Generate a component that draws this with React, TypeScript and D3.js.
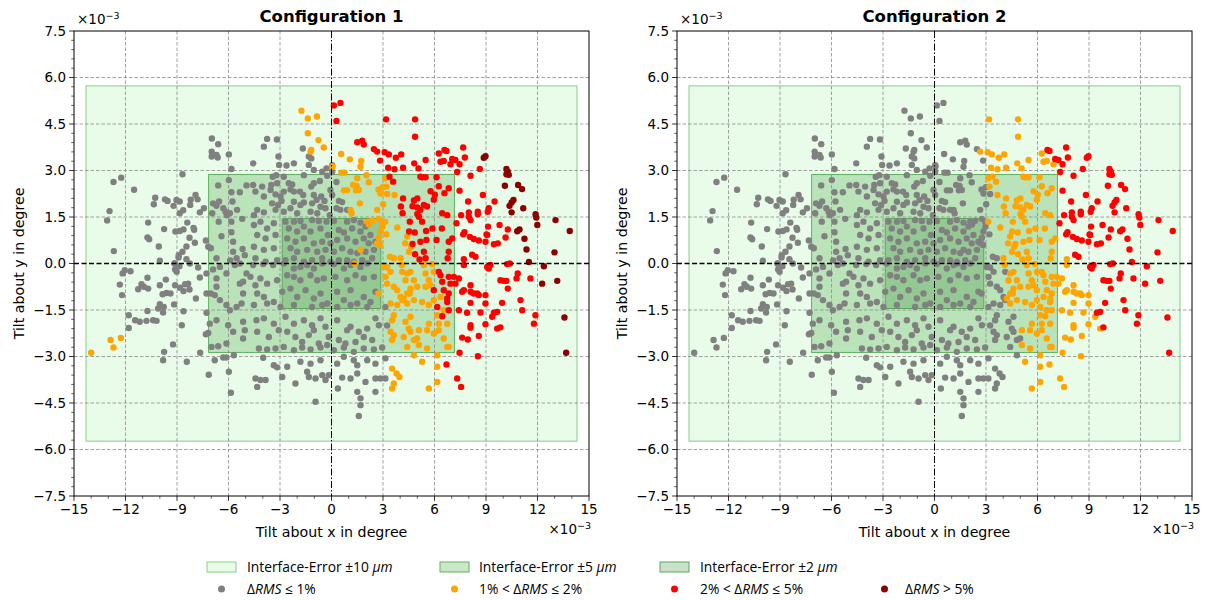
import React from 'react';
import * as d3 from 'd3';

// Axis ticks (values in units of 1e-3 degree)
const X_TICKS = [-15, -12, -9, -6, -3, 0, 3, 6, 9, 12, 15];
const Y_TICKS = [-7.5, -6, -4.5, -3, -1.5, 0, 1.5, 3, 4.5, 6, 7.5];
const X_MINOR = d3.range(-15, 15.001, 1);
const Y_MINOR = d3.range(-7.5, 7.501, 0.3);

// Interface-error tolerance zones: half-extent in x and y (1e-3 degree)
const ZONE_LABELS = ['10', '5', '2'];
const ZONE_HALF_X = [14.3, 7.16, 2.87];
const ZONE_HALF_Y = [5.73, 2.87, 1.45];

const PANEL_TITLES = ['Configuration 1', 'Configuration 2'];
const CLASS_LABELS = ['≤ 1%', '1% < ', '2% < ', '> 5%'];

// Tilt samples, grouped by their class in configuration 1.
// Third entry (where present) = class in configuration 2 (0 gray, 1 orange, 2 red).
const GRAY: number[][] = [
  [-6.97,4.03],[-6.6,3.85],[-6.98,3.61],[-6.7,3.5],[-6.98,3.45],[-6.63,3.42],[-5.98,3.52],[-8.68,2.88],[-5.83,3.05],[-12.7,2.63],[-12.25,2.77],[-11.5,2.38],[-6.6,2.52],[-5.98,2.69],[-5.83,2.3],[-5.34,2.3],[-4.95,2.52],[-10.27,2.12],[-10.35,1.91],[-9.7,2.07],[-9.55,2.02],[-9.03,2.05],[-8.84,2.0],[-9.2,1.86],[-8.64,1.72],[-8.84,1.62],[-8.2,2.06],[-7.92,2.21],[-7.8,2.07],[-8.23,1.89],[-7.43,1.78],[-7.67,1.65],[-12.93,1.69],[-13.07,1.39],[-6.9,1.94],[-6.55,2.0],[-6.7,1.86],[-6.95,1.62],[-6.57,1.35],[-6.3,1.78],[-6.1,1.56],[-5.92,1.62],[-6.17,1.67],[-5.83,1.35],[-5.77,2.0],[-5.2,1.44],[-5.5,1.73],[-10.68,1.32],[-9.75,1.11],[-9.09,1.03],[-8.84,1.05],[-8.62,1.1],[-8.4,1.32],[-8.0,1.09],[-8.04,1.15],[-8.27,0.83],[-8.45,0.55],[-7.96,0.67],[-10.72,0.84],[-10.62,0.78],[-10.06,0.55],[-12.68,0.4],[-7.32,0.74],[-7.18,0.54],[-7.03,0.49],[-6.41,0.88],[-5.83,1.01],[-5.73,0.7],[-5.73,0.38],[-5.18,0.47],[-5.05,0.27],[-5.53,0.17],[-8.9,0.27],[-8.68,0.38],[-8.91,0.19],[-8.45,0.14],[-10.0,0.09],[-9.15,0.0],[-6.7,0.17],[-5.9,0.1],
  [-3.75,4.02],[-3.18,4.0],[-3.94,3.77],[-1.67,3.71],[-1.32,3.45],[-1.18,3.39],[-1.32,3.18],[-3.09,3.45],[-3.05,3.18],[-2.62,3.16],[-2.19,3.23],[-4.56,3.23],[0.04,3.17],[0.04,2.96],[-3.22,2.85],[-3.42,2.8],[-2.78,2.8],[-1.61,2.85],[-1.03,3.02],[-0.54,2.96],[-0.29,3.07],[-1.18,2.48],[-1.03,2.59],[-0.68,2.66],[-0.25,2.83],[0.29,2.63],[-4.04,2.48],[-3.55,2.37],[-3.51,2.53],[-3.17,2.59],[-3.26,2.23],[-4.56,2.53],[-4.43,2.32],[-2.49,2.59],[-2.29,2.55],[-2.78,2.32],[-2.19,2.32],[-2.39,2.39],[-1.84,2.32],[-1.65,2.21],[-1.03,2.21],[-0.6,2.16],[-0.41,2.02],[-0.06,2.37],[0.04,2.21],[0.43,2.02],[0.62,1.98],[0.29,1.78],[0.52,1.73],[0.91,1.73],[-3.94,2.16],[-2.97,2.16],[-2.91,2.02],[-3.46,1.94],[-3.11,1.89],[-2.19,1.99],[-1.81,1.89],[-1.61,1.97],[-1.13,1.94],[-0.87,2.05],[-0.64,1.83],[-4.33,1.73],[-4.52,1.56],[-3.94,1.65],[-3.26,1.73],[-2.78,1.67],[-2.39,1.78],[-2.0,1.62],[-1.22,1.67],[-0.83,1.62],[-0.35,1.78],[-0.1,1.56],
  [-2.68,1.35],[-2.19,1.35],[-1.81,1.37],[-1.13,1.4],[-0.74,1.37],[-0.29,1.35],[0.14,1.37],[0.91,1.35],[1.3,1.4],[1.69,1.32],[1.98,1.19],[-2.49,1.13],[-2.0,1.03],[-1.61,1.19],[-1.22,1.03],[-0.64,1.13],[-0.21,0.92],[0.43,1.08],[0.72,1.0],[1.2,1.13],[1.69,1.03],[-2.58,0.81],[-2.1,0.7],[-1.61,0.81],[-1.03,0.65],[-0.54,0.7],[-0.06,0.65],[0.33,0.76],[0.91,0.81],[1.4,0.7],[1.88,0.81],[2.17,0.65],[-2.39,0.49],[-2.0,0.38],[-1.42,0.44],[-0.83,0.38],[-0.35,0.44],[0.14,0.38],[0.62,0.49],[1.11,0.38],[1.5,0.33],[1.98,0.38],[2.47,0.44],[-2.68,0.11],[-2.19,0.17],[-1.61,0.06],[-1.13,0.11],[-0.54,0.17],[-0.06,0.06],[0.43,0.11],[0.91,0.11],[1.3,0.06],[1.79,0.11],[-4.52,1.24],[-4.14,1.35],[-3.75,1.13],[-3.36,1.3],[-4.33,0.92],[-3.84,0.81],[-3.26,0.92],[-4.52,0.54],[-3.94,0.44],[-3.36,0.49],[-4.43,0.17],[-3.84,0.06],[-3.17,0.11],[2.27,0.92],[2.56,0.7],[2.37,0.17],
  [-12.17,-0.32],[-12.04,-0.22],[-11.71,-0.25],[-12.33,-0.68],[-12.2,-1.02],[-11.81,-1.67],[-11.81,-2.08],[-11.44,-1.83],[-11.17,-1.88],[-10.78,-1.85],[-10.39,-1.83],[-10.19,-1.85],[-10.72,-0.46],[-11.07,-0.67],[-10.93,-0.75],[-11.26,-0.83],[-10.68,-0.81],[-10.72,-1.53],[-10.0,-0.7],[-9.84,-0.99],[-9.61,-0.95],[-9.38,-0.97],[-9.65,-0.52],[-10.0,-1.31],[-10.1,-1.45],[-9.81,-1.58],[-9.77,-1.4],[-9.11,0.0],[-9.02,-0.27],[-9.11,-0.19],[-8.86,-0.09],[-9.11,-0.7],[-8.82,-0.78],[-8.62,-0.89],[-8.53,-0.67],[-8.27,-0.84],[-9.17,-1.32],[-8.62,-1.54],[-8.72,-1.99],[-8.25,0.0],[-7.77,-0.13],[-7.67,-0.45],[-8.35,-0.65],[-7.9,-1.13],[-7.28,-0.97],[-7.03,-0.97],[-6.8,-1.02],[-6.7,-0.75],[-6.7,-0.48],[-7.28,-0.32],[-6.9,-0.19],[-6.5,-1.18],[-6.12,-1.34],[-5.92,-1.51],[-5.53,-1.4],[-5.24,-1.29],[-5.15,-0.97],[-5.34,-0.65],[-7.28,-1.59],[-6.7,-1.83],[-7.09,-1.94],[-7.18,-2.24],[-7.32,-2.28],[-6.99,-2.69],[-6.6,-2.67],[-6.12,-2.58],[-6.02,-1.99],[-5.73,-2.2],[-5.15,-1.88],[-5.05,-2.15],[-5.15,-2.42],[-9.75,-2.85],[-9.81,-3.12],[-9.23,-2.61],[-8.43,-3.17],[-7.65,-2.88],[-6.8,-3.12],[-6.31,-3.03],[-6.12,-3.03],[-5.69,-2.96],[-7.15,-3.59],[-5.98,-3.49],[-5.86,-4.17],[-6.5,-0.11],[-6.12,-0.32],[-5.63,-0.05],[-5.34,0.0],[-4.95,-0.32],[-5.15,-0.59],
  [-4.56,-0.05],[-3.98,-0.02],[-3.4,-0.05],[-2.78,0.0],[-2.19,-0.16],[-1.81,-0.11],[-1.42,-0.05],[-1.03,-0.16],[-0.54,0.0],[0.14,-0.02],[0.72,-0.16],[1.11,-0.05],[1.69,-0.11],[2.08,0.0],[-4.72,-0.43],[-4.14,-0.48],[-4.43,-0.7],[-3.75,-0.65],[-3.17,-0.54],[-2.58,-0.38],[-2.19,-0.43],[-1.81,-0.54],[-1.22,-0.38],[-0.83,-0.54],[-0.45,-0.48],[0.23,-0.43],[0.91,-0.54],[1.4,-0.38],[1.88,-0.48],[2.47,-0.43],[-4.33,-0.97],[-3.94,-1.08],[-3.36,-1.24],[-2.87,-0.91],[-2.39,-0.81],[-2.0,-1.08],[-1.51,-0.86],[-1.03,-1.13],[-0.64,-0.97],[-0.25,-1.29],[0.33,-0.91],[0.72,-1.18],[1.11,-0.86],[1.5,-1.29],[1.88,-1.08],[2.27,-1.24],[2.56,-0.91],[-4.52,-1.34],[-3.75,-1.29],[-2.97,-1.4],[-2.19,-1.34],[-1.13,-1.4],[-0.54,-1.34],[0.33,-1.4],[1.11,-1.34],[2.08,-1.4],
  [-4.37,-1.83],[-3.94,-1.77],[-3.36,-1.94],[-2.68,-1.72],[-2.19,-1.94],[-1.61,-1.83],[-1.13,-1.99],[-1.03,-2.15],[-0.64,-1.77],[-0.35,-2.04],[-0.16,-2.37],[0.33,-1.83],[0.91,-2.15],[1.11,-2.04],[1.59,-2.2],[2.08,-2.1],[2.56,-1.77],[2.76,-1.99],[-4.33,-2.2],[-3.65,-2.37],[-3.07,-2.15],[-2.58,-2.2],[-2.1,-2.37],[-1.71,-2.53],[-1.32,-2.31],[-0.74,-2.58],[-0.25,-2.63],[0.43,-2.47],[0.81,-2.58],[1.4,-2.53],[1.88,-2.37],[2.37,-2.47],[-4.23,-2.74],[-3.75,-2.77],[-3.26,-2.74],[-2.78,-2.69],[-2.19,-2.8],[-1.71,-2.71],[-1.22,-2.77],[-0.64,-2.71],[0.14,-2.8],[0.72,-2.71],[1.3,-2.85],[1.88,-2.74],[2.47,-2.77],[2.95,-2.71],[3.14,-1.4],[3.24,-2.0],
  [-3.98,-3.04],[-3.36,-3.28],[-3.17,-3.35],[-2.58,-3.33],[-1.81,-3.17],[-1.22,-3.23],[-0.64,-3.12],[0.33,-3.23],[0.72,-3.01],[1.3,-3.12],[1.5,-3.28],[2.08,-3.12],[2.56,-3.23],[3.14,-3.06],[-4.43,-3.71],[-4.14,-3.76],[-3.84,-3.76],[-4.33,-3.98],[-2.87,-3.66],[-2.1,-3.87],[-1.42,-3.49],[-1.32,-3.66],[-0.93,-3.71],[-0.54,-3.6],[-0.35,-3.76],[-0.16,-3.6],[0.62,-3.68],[1.11,-3.71],[1.5,-3.55],[1.98,-3.82],[2.56,-3.71],[2.85,-3.71],[3.14,-3.71],[-0.93,-4.46],[0.37,-4.03],[1.5,-4.14],[2.56,-4.14],[1.69,-4.35],[1.69,-4.57],[1.59,-4.92],
];

const ORANGE: number[][] = [
  [-14.0,-2.88,0],[-12.87,-2.47,0],[-12.7,-2.71,0],[-12.27,-2.4,0],
  [-1.75,4.93,0],[-1.38,4.68,0],[-0.85,4.74,0],[-1.38,4.2,0],[-0.76,3.98,0],[-1.18,3.66,0],[-1.22,3.61,0],[-0.45,3.74,0],
  [0.56,3.53,0],[1.07,3.36,0],[1.73,3.31,0],[1.69,3.12,0],[2.04,2.85,0],[1.5,2.75,0],[0.76,2.93,0],[0.58,2.93,0],[0.06,3.13,0],[1.26,2.53,0],[1.46,2.5,0],[1.59,2.37,0],[1.42,2.36,0],[0.72,2.36,0],[0.91,2.36,0],[2.17,2.62,0],[2.74,2.39,0],[2.85,2.26,0],[2.99,2.46,0],[3.2,2.48,1],[3.14,2.75,1],[3.24,2.24,0],[3.67,2.21,1],[3.01,1.91,0],[2.66,1.73,0],[1.65,1.94,0],[1.11,1.73,0],[1.17,1.62,0],[2.08,1.35,0],[2.37,1.38,0],[2.19,1.26,0],[2.76,1.44,0],[2.95,1.35,0],[2.97,1.19,0],[3.13,1.35,1],[2.85,1.03,0],[3.2,0.94,0],[3.83,1.16,1],[4.41,0.87,1],[4.29,0.65,1],[4.64,0.54,1],[4.52,0.38,1],[4.02,0.17,1],[2.76,0.83,0],[2.66,0.65,0],[2.83,0.6,0],[3.4,0.22,0],[3.63,0.17,0],[4.1,-0.05,1],[1.69,0.44,0],[1.34,0.0,0],
  [3.05,-0.11,0],[3.24,-0.13,0],[3.44,-0.27,0],[3.15,-0.43,0],[3.24,-0.65,0],[3.63,-0.75,0],[3.83,-0.86,0],[4.02,-1.08,0],[4.21,-1.13,1],[4.41,-0.97,1],[4.6,-0.81,1],[2.74,-0.97,0],[3.44,-1.29,0],[3.83,-1.34,0],[4.12,-1.18,0],[4.41,-1.29,1],[4.8,-1.18,1],[4.12,-0.27,0],[4.41,-0.32,1],[4.6,-0.27,1],[4.31,-0.54,1],[4.8,-0.54,1],[4.99,-0.75,1],[4.56,-0.97,1],
  [3.63,-1.67,0],[3.53,-1.83,0],[4.31,-1.88,0],[4.6,-1.72,0],[4.5,-2.1,0],[4.6,-2.2,0],[5.09,-2.15,1],[3.44,-2.2,0],[3.63,-2.31,0],[4.21,-2.37,0],[4.8,-2.47,0],[4.99,-2.42,0],[4.41,-2.69,0],[5.09,-2.63,1],[4.8,-2.96,0],[3.53,-2.47,0],
  [3.53,-3.39,0],[3.79,-3.55,0],[3.96,-3.66,0],[3.63,-3.87,0],[3.53,-4.03,0],
  [5.38,-0.05,1],[5.86,-0.02,1],[5.48,-0.32,1],[5.96,-0.27,1],[5.67,-0.54,1],[5.48,-0.75,1],[5.77,-0.7,1],[5.28,-1.24,1],[5.67,-1.34,1],[5.96,-1.18,1],[6.35,-1.08,1],[6.54,-1.51,1],[6.16,-1.67,1],[5.67,-1.94,1],[6.25,-1.94,1],[6.74,-1.94,1],[5.57,-2.15,1],[5.96,-2.26,1],[6.25,-2.15,1],[6.54,-2.42,1],[5.57,-2.74,1],[5.28,-3.17,1],[6.16,-2.96,1],[6.16,-3.33,1],[6.16,-3.82,1],[5.67,-4.03,1],[6.74,-2.69,1],[6.83,-2.69,1],
];

const RED: number[][] = [
  [0.14,5.1,0],[0.52,5.18,0],[0.29,4.6,0],[3.18,4.65,1],[4.87,4.65,1],[4.87,4.09,1],[1.5,3.91,0],[1.79,3.96,0],[1.88,3.84,0],[2.47,3.69,0],[2.66,3.61,1],[3.1,3.59,1],[3.34,3.52,1],[3.75,3.41,1],[4.06,3.52,1],[2.83,3.32,0],[3.3,3.09,1],[3.67,3.04,1],[4.17,3.09,1],[4.82,3.23,1],[5.07,3.07,1],[5.18,2.8,1],[3.38,2.8,1],[3.59,2.64,1],[4.17,2.1,1],[4.8,2.03,1],[5.0,2.1,1],[4.72,1.85,1],[5.0,1.81,1],[5.0,1.6,1],[5.09,1.51,1],[4.04,1.84,1],[4.14,1.62,1],[4.56,1.35,1],[4.52,1.03,1],[4.85,1.0,1],[4.72,0.63,1],[4.87,0.3,1],[5.13,0.13,1],
  [5.48,3.34,1],[6.25,3.55,1],[6.58,3.66,2],[6.7,3.63,2],[6.35,3.28,1],[6.54,3.31,1],[6.93,3.2,1],[7.03,3.37,2],[7.22,3.34,2],[7.46,3.2,2],[7.77,3.42,2],[7.67,3.74,2],[8.64,3.05,2],[8.1,2.83,2],[7.32,2.95,2],
  [5.28,2.78,1],[5.48,2.78,1],[6.12,2.78,1],[6.25,2.49,1],[5.77,2.33,1],[6.02,2.22,1],[6.58,2.27,1],[6.83,2.43,1],[5.96,2.06,1],[5.38,1.89,1],[5.57,1.84,1],[5.18,1.73,1],
  [7.46,2.35,2],[7.96,2.0,2],[8.82,2.21,2],[9.5,2.0,2],[6.45,1.62,1],[6.74,1.56,1],[7.55,1.56,2],[8.0,1.65,2],[8.52,1.67,2],[8.52,1.59,2],[9.16,1.78,2],[9.1,1.67,2],[5.28,1.35,1],[8.1,1.4,2],[8.0,1.51,2],[7.28,1.3,2],
  [9.12,1.19,2],[9.79,1.24,2],[10.27,1.1,2],[9.07,0.92,2],[9.03,0.94,2],[7.75,1.01,2],[7.67,0.94,2],[8.06,0.86,2],[8.29,0.79,2],[8.58,0.74,2],[8.97,0.7,2],[9.69,0.65,2],[9.46,0.62,2],[10.14,0.84,2],
  [5.51,1.05,1],[5.88,1.13,1],[6.43,1.13,1],[5.53,0.76,1],[5.18,0.7,1],[6.12,0.76,1],[6.83,0.7,1],[7.03,0.81,1],[5.38,0.38,1],[5.48,0.17,1],[6.83,0.38,1],[6.77,0.17,1],[7.71,0.14,1],[8.19,0.28,2],[8.39,0.22,2],
  [6.25,-0.27,1],[6.35,-0.38,1],[6.45,-0.59,1],[6.83,-0.43,1],[7.13,-0.43,1],[7.42,-0.48,1],[6.93,-0.65,1],[7.22,-0.65,1],[6.54,-0.86,1],[5.96,-0.86,1],[6.83,-0.97,1],[6.74,-1.13,1],[6.74,-1.24,1],[6.16,-1.4,1],[6.83,-1.51,1],[6.45,-1.7,1],[7.42,-1.51,1],[7.9,-1.59,1],[7.61,-0.91,1],[7.71,-0.86,1],[8.1,-0.91,1],[8.1,-0.7,1],[8.29,-0.97,1],[8.58,-1.02,1],[8.49,-0.97,1],[8.97,-1.02,1],[8.1,-1.27,1],[8.97,-1.29,1],[8.68,-1.58,1],[9.46,-1.59,2],[9.65,-1.56,2],[9.36,-1.72,1],[9.94,-1.27,2],[9.84,-0.54,2],[10.04,-0.56,2],[10.19,-0.56,2],[10.27,-0.81,2],[10.78,-0.48,2],[10.85,-0.32,2],[11.59,-0.48,2],[11.01,-1.18,2],[11.11,-1.51,2],[11.88,-1.67,2],[11.79,-1.94,2],[8.97,-1.96,1],[8.1,-1.99,1],[8.1,-2.07,1],[9.65,-2.1,1],[9.84,-2.06,2],[7.61,-2.39,1],[7.94,-2.45,1],[8.58,-2.34,1],[7.46,-2.88,1],[8.53,-2.99,1],[6.7,-3.26,1],[7.32,-3.71,1],[7.55,-3.98,1],[7.71,-0.05,1],[9.07,-0.11,2],[9.26,-0.05,2],[9.16,-0.16,2],[10.23,-0.02,2],[10.39,0.0,2],
];

const DARK_RED: number[][] = [
  [8.87,3.41],[8.97,3.46],[10.19,3.05],[10.27,2.96],[10.19,2.88],[10.33,2.86],[10.1,2.51],[10.87,2.53],[11.1,2.4],[10.6,2.05],[10.49,1.97],[10.37,1.86],[10.49,1.65],[11.17,1.78],[11.89,1.59],[11.93,1.48],[11.99,1.24],[13.05,1.4],[13.88,1.05],[10.95,1.1],[10.82,1.04],[11.24,0.8],[11.36,0.45],[12.99,0.36],[11.5,0.05],[12.37,-0.09],[12.27,-0.65],[13.15,-0.56],[13.57,-1.74],[13.67,-2.88],
];

type Pt = { x: number; y: number; cls: [number, number] };

const POINTS: Pt[] = [
  ...GRAY.map(([x, y]) => ({ x, y, cls: [0, 0] as [number, number] })),
  ...ORANGE.map(([x, y, c]) => ({ x, y, cls: [1, c] as [number, number] })),
  ...RED.map(([x, y, c]) => ({ x, y, cls: [2, c] as [number, number] })),
  ...DARK_RED.map(([x, y]) => ({ x, y, cls: [3, 2] as [number, number] })),
];

const CLASS_COLORS = ['#808080', '#ffa500', '#ff0000', '#8b0000'];
const ZONE_FILLS = ['#90ee90', '#008000', '#006400'];
const ZONE_STROKES = ['#86cf86', '#5fb35f', '#5aa85a'];

const FONT = 'DejaVu Sans, sans-serif';
const LEGEND_FONT = 'Open Sans, DejaVu Sans, sans-serif';
const TICK_FS = 13.5;
const LABEL_FS = 14.2;

const minus = (s: string) => s.replace('-', '\u2212');

function Panel({ left, cfg }: { left: number; cfg: number }) {
  const width = 515;
  const top = 31;
  const bottom = 496;
  const x = d3.scaleLinear().domain([-15, 15]).range([left, left + width]);
  const y = d3.scaleLinear().domain([-7.5, 7.5]).range([bottom, top]);
  const isMajorX = (v: number) => X_TICKS.some((t) => Math.abs(t - v) < 1e-6);
  const isMajorY = (v: number) => Y_TICKS.some((t) => Math.abs(t - v) < 1e-6);
  const cx = x(0);

  return (
    <g>
      {/* tolerance zones */}
      {ZONE_LABELS.map((_, i) => (
        <rect
          key={'z' + i}
          x={x(-ZONE_HALF_X[i])}
          y={y(ZONE_HALF_Y[i])}
          width={x(ZONE_HALF_X[i]) - x(-ZONE_HALF_X[i])}
          height={y(-ZONE_HALF_Y[i]) - y(ZONE_HALF_Y[i])}
          fill={ZONE_FILLS[i]}
          fillOpacity={0.2}
          stroke={ZONE_STROKES[i]}
          strokeWidth={1}
        />
      ))}
      {/* grid */}
      {X_TICKS.slice(1, -1).filter((t) => t !== 0).map((t) => (
        <line key={'gx' + t} x1={x(t)} x2={x(t)} y1={top} y2={bottom}
          stroke="#8a8a8a" strokeWidth={0.8} strokeDasharray="3.5,2" />
      ))}
      {Y_TICKS.slice(1, -1).filter((t) => t !== 0).map((t) => (
        <line key={'gy' + t} y1={y(t)} y2={y(t)} x1={left} x2={left + width}
          stroke="#8a8a8a" strokeWidth={0.8} strokeDasharray="3.5,2" />
      ))}
      {/* samples */}
      {[0, 1, 2, 3].map((k) => (
        <g key={'c' + k} fill={CLASS_COLORS[k]}>
          {POINTS.filter((p) => p.cls[cfg] === k).map((p, i) => (
            <circle key={i} cx={x(p.x)} cy={y(p.y)} r={3.2} />
          ))}
        </g>
      ))}
      {/* zero axes */}
      <line x1={left} x2={left + width} y1={y(0)} y2={y(0)} stroke="#000" strokeWidth={1.3} strokeDasharray="5,2.5" />
      <line x1={cx} x2={cx} y1={top} y2={bottom} stroke="#000" strokeWidth={1} strokeDasharray="7,2,1.5,2" />
      {/* frame */}
      <rect x={left} y={top} width={width} height={bottom - top} fill="none" stroke="#000" strokeWidth={1} />
      {/* ticks */}
      {X_MINOR.filter((v) => !isMajorX(v)).map((v) => (
        <line key={'mx' + v} x1={x(v)} x2={x(v)} y1={bottom} y2={bottom + 2.8} stroke="#000" strokeWidth={0.6} />
      ))}
      {Y_MINOR.filter((v) => !isMajorY(v)).map((v) => (
        <line key={'my' + v} y1={y(v)} y2={y(v)} x1={left} x2={left - 2.8} stroke="#000" strokeWidth={0.6} />
      ))}
      {X_TICKS.map((t) => (
        <g key={'tx' + t}>
          <line x1={x(t)} x2={x(t)} y1={bottom} y2={bottom + 4.9} stroke="#000" strokeWidth={0.8} />
          <text x={x(t)} y={bottom + 7.5} dy="0.78em" textAnchor="middle" fontSize={TICK_FS} fontFamily={FONT}>
            {minus(String(t))}
          </text>
        </g>
      ))}
      {Y_TICKS.map((t) => (
        <g key={'ty' + t}>
          <line y1={y(t)} y2={y(t)} x1={left} x2={left - 4.9} stroke="#000" strokeWidth={0.8} />
          <text x={left - 8} y={y(t)} dy="0.35em" textAnchor="end" fontSize={TICK_FS} fontFamily={FONT}>
            {minus(t.toFixed(1))}
          </text>
        </g>
      ))}
      {/* offset labels */}
      <text x={left + 3} y={24} fontSize={TICK_FS} fontFamily={FONT}>
        ×10<tspan dy={-5.5} fontSize={9.5}>−3</tspan>
      </text>
      <text x={left + width + 2} y={534} fontSize={TICK_FS} fontFamily={FONT} textAnchor="end">
        ×10<tspan dy={-5.5} fontSize={9.5}>−3</tspan>
      </text>
      {/* labels */}
      <text x={cx} y={22} textAnchor="middle" fontSize={16.5} fontWeight="bold" fontFamily={FONT}>
        {PANEL_TITLES[cfg]}
      </text>
      <text x={cx} y={537} textAnchor="middle" fontSize={LABEL_FS} fontFamily={FONT}>
        Tilt about x in degree
      </text>
      <text transform={`translate(${left - 50},${(top + bottom) / 2}) rotate(-90)`} textAnchor="middle"
        fontSize={LABEL_FS} fontFamily={FONT}>
        Tilt about y in degree
      </text>
    </g>
  );
}

function Legend() {
  const colX = [207, 440, 660, 870];
  const textX = [247, 479, 700, 905];
  const row1 = 567;
  const row2 = 589;
  const fs = 13.8;
  return (
    <g fontFamily={LEGEND_FONT} fontSize={fs}>
      {ZONE_LABELS.map((lab, i) => (
        <g key={'lz' + i}>
          <rect x={colX[i]} y={row1 - 5} width={29} height={10} fill={ZONE_FILLS[i]} fillOpacity={0.2}
            stroke={ZONE_STROKES[i]} strokeWidth={1} />
          <text x={textX[i]} y={row1} dy="0.35em">
            Interface-Error ±{lab} <tspan fontStyle="italic">µm</tspan>
          </text>
        </g>
      ))}
      {CLASS_LABELS.map((lab, k) => (
        <g key={'lc' + k}>
          <circle cx={colX[k] + 14.5} cy={row2} r={3.5} fill={CLASS_COLORS[k]} />
          <text x={textX[k]} y={row2} dy="0.35em">
            {k === 1 || k === 2 ? lab : ''}Δ<tspan fontStyle="italic">RMS</tspan>
            {k === 0 ? ' ≤ 1%' : k === 1 ? ' ≤ 2%' : k === 2 ? ' ≤ 5%' : ' > 5%'}
          </text>
        </g>
      ))}
    </g>
  );
}

export default function App() {
  return (
    <svg width={1207} height={600} style={{ position: 'absolute', left: 0, top: 0, background: '#fff' }}>
      <rect width={1207} height={600} fill="#fff" />
      <Panel left={74} cfg={0} />
      <Panel left={677} cfg={1} />
      <Legend />
    </svg>
  );
}
